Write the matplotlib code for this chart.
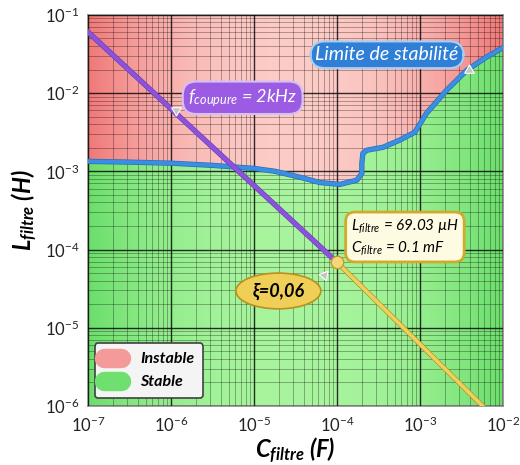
import numpy as np
import matplotlib
matplotlib.use("Agg")
from matplotlib import pyplot as plt
from matplotlib import patheffects as pe
from matplotlib.lines import Line2D
from matplotlib.ticker import LogLocator, NullFormatter

plt.rcParams['font.family'] = ['Lato', 'DejaVu Sans']
plt.rcParams['mathtext.fontset'] = 'custom'
plt.rcParams['mathtext.rm'] = 'Lato'
plt.rcParams['mathtext.it'] = 'Lato:italic'
plt.rcParams['mathtext.bf'] = 'Lato:bold'
plt.rcParams['mathtext.bfit'] = 'Lato:italic:bold'

# stability limit
C_lim = [1e-7, 3.2e-7, 1e-6, 3.2e-6, 1e-5, 1.8e-5, 3.6e-5, 6.2e-5, 1.09e-4,
         1.74e-4, 2.0e-4, 2.0e-4, 2.06e-4, 2.3e-4, 3.6e-4, 5.7e-4, 8.7e-4,
         1.2e-3, 2.1e-3, 3.7e-3, 6.4e-3, 1e-2]
L_lim = [1.34e-3, 1.31e-3, 1.27e-3, 1.19e-3, 1.09e-3, 1.0e-3, 8.4e-4, 7.2e-4, 6.8e-4,
         7.7e-4, 9.4e-4, 1.27e-3, 1.7e-3, 1.86e-3, 2.03e-3, 2.5e-3, 3.16e-3,
         5.5e-3, 1.09e-2, 1.97e-2, 2.9e-2, 3.8e-2]

# cut-off frequency line, 2 kHz
C_fc = [1e-7, 1e-4]
L_fc = [6.05e-2, 6.9e-5]

# continuation below the operating point
C_low = [1e-4, 5.7e-3]
L_low = [6.9e-5, 1e-6]

# operating point
C_pt = 1e-4
L_pt = 69.03e-6
xi = 0.06
f_c = 2

fig = plt.figure(figsize=(5.2, 4.65), dpi=100)
ax = fig.add_axes([0.169, 0.127, 0.798, 0.841])
ax.set_xscale('log')
ax.set_yscale('log')

# background gradients
nx = 400
x = np.linspace(0, 1, nx)
w = np.abs(2 * x - 1) ** 2.2


def gradient(edge, center):
    img = np.zeros((2, nx, 3))
    for k in range(3):
        img[:, :, k] = center[k] + (edge[k] - center[k]) * w
    return img


red_img = gradient((0.94, 0.47, 0.47), (0.99, 0.80, 0.78))
green_img = gradient((0.42, 0.87, 0.42), (0.66, 0.96, 0.62))

ax.imshow(red_img, extent=(0, 1, 0, 1), transform=ax.transAxes, aspect='auto', zorder=0)
gim = ax.imshow(green_img, extent=(0, 1, 0, 1), transform=ax.transAxes, aspect='auto', zorder=0.5)
poly = ax.fill_between(C_lim, L_lim, 1e-7, facecolor='none', edgecolor='none')
gim.set_clip_path(poly.get_paths()[0], poly.get_transform())

# grid
ax.xaxis.set_minor_locator(LogLocator(base=10, subs=np.arange(2, 10)))
ax.yaxis.set_minor_locator(LogLocator(base=10, subs=np.arange(2, 10)))
ax.xaxis.set_minor_formatter(NullFormatter())
ax.yaxis.set_minor_formatter(NullFormatter())
ax.grid(which='major', color='black', lw=1.0, alpha=0.8, zorder=1)
ax.grid(which='minor', color='black', lw=0.6, alpha=0.35, zorder=1)
ax.set_axisbelow(False)

# curves
ax.plot(C_lim, L_lim, color='#3b8fe2', lw=2.8, zorder=3, solid_capstyle='round',
        path_effects=[pe.Stroke(linewidth=3.8, foreground='#2a6cb8'), pe.Normal()])
ax.plot(C_fc, L_fc, color='#8b52dc', lw=3, zorder=3,
        path_effects=[pe.Stroke(linewidth=3.8, foreground='#6a36b4'), pe.Normal()])
ax.plot(C_low, L_low, color='#ecd060', lw=2.6, zorder=3,
        path_effects=[pe.Stroke(linewidth=3.6, foreground='#b8921c'), pe.Normal()])
ax.plot([C_pt], [L_pt], 'o', ms=9, mfc='#f3d77a', mec='#c49c2e', mew=1, zorder=4)

ax.set_xlim(1e-7, 1e-2)
ax.set_ylim(1e-6, 1e-1)

# labels
ax.tick_params(which='both', length=0, labelsize=12, colors='#222222')
ax.tick_params(axis='x', pad=7)
ax.tick_params(axis='y', pad=6)
for s in ax.spines.values():
    s.set_color('#8a8a8a')
    s.set_linewidth(1.2)
ax.set_xlabel(r'$\mathbfit{C}_{\mathbfit{filtre}}$ (F)', fontsize=17, fontweight='bold',
              fontstyle='italic', labelpad=0)
ax.set_ylabel(r'$\mathbfit{L}_{\mathbfit{filtre}}$ (H)', fontsize=17, fontweight='bold',
              fontstyle='italic', labelpad=4)

# callouts
ax.text(0.373, 0.788, r'$f_{coupure}$ = %dkHz' % f_c, transform=ax.transAxes,
        ha='center', va='center', color='white', fontsize=13, fontstyle='italic', zorder=6,
        bbox=dict(boxstyle='round,pad=0.3,rounding_size=0.75', fc='#9b5be2', ec='#d6bff2', lw=1.5))
ax.text(0.721, 0.898, 'Limite de stabilité', transform=ax.transAxes,
        ha='center', va='center', color='white', fontsize=14, fontstyle='italic', zorder=6,
        bbox=dict(boxstyle='round,pad=0.25,rounding_size=0.75', fc='#2f7fd6', ec='#a9cdf2', lw=1.5))
ax.text(0.764, 0.432,
        r'$L_{filtre}$ = %.2f µH' % (L_pt * 1e6) + '\n' + r'$C_{filtre}$ = %g mF' % (C_pt * 1e3),
        transform=ax.transAxes, ha='center', va='center', multialignment='left', color='black',
        fontsize=11, fontstyle='italic', zorder=6, linespacing=1.25,
        bbox=dict(boxstyle='round,pad=0.35,rounding_size=0.6', fc='#fffbe2', ec='#d2aa2a', lw=2))
ax.text(0.459, 0.294, 'ξ=%s' % str(xi).replace('.', ','), transform=ax.transAxes,
        ha='center', va='center', color='black', fontsize=13, fontweight='bold',
        fontstyle='italic', zorder=6,
        bbox=dict(boxstyle='ellipse,pad=0.22', fc='#efcf58', ec='#b8921c', lw=1.2))

# small pointer triangles
for px, py, ang in [(0.212, 0.757, 60), (0.918, 0.859, 240), (0.570, 0.335, 200)]:
    ax.plot(px, py, marker=(3, 0, ang), ms=8, mfc='#c4c4c4', mec='white', mew=0.8,
            transform=ax.transAxes, zorder=6, clip_on=False)

# legend
handles = [Line2D([], [], color='#f59a9a', lw=14, solid_capstyle='round'),
           Line2D([], [], color='#6fe06f', lw=14, solid_capstyle='round')]
leg = ax.legend(handles, ['Instable', 'Stable'], loc='lower left', bbox_to_anchor=(0.017, 0.02),
                borderaxespad=0, handlelength=1.1, handletextpad=1.2, labelspacing=0.55,
                borderpad=0.55, fancybox=True, framealpha=1,
                prop={'weight': 'bold', 'style': 'italic', 'size': 11.5})
leg.get_frame().set_edgecolor('#404040')
leg.get_frame().set_linewidth(1.2)
leg.get_frame().set_facecolor('#f4f4f4')
leg.set_zorder(7)

fig.savefig('out.png', dpi=100)
